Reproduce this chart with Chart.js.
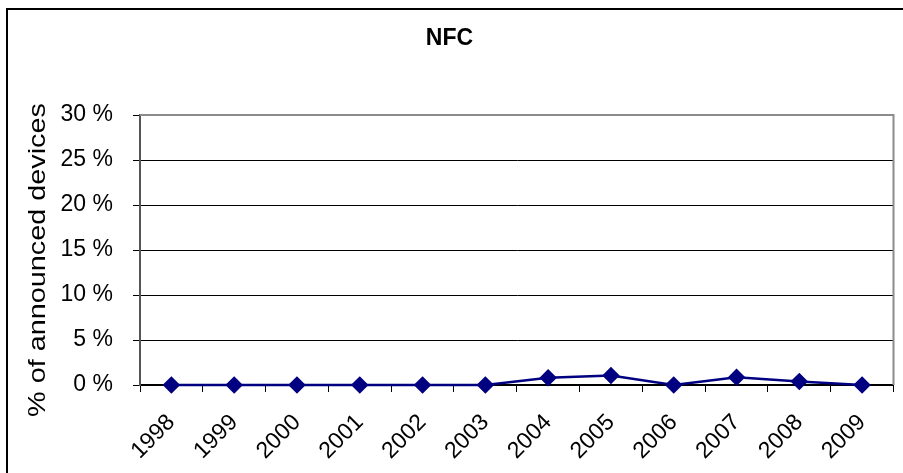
<!DOCTYPE html>
<html>
<head>
<meta charset="utf-8">
<script src="https://cdn.jsdelivr.net/npm/chart.js@4/dist/chart.umd.min.js"></script>
<style>
  html, body { margin: 0; padding: 0; background: #fff; }
  #wrap { position: relative; width: 903px; height: 473px; overflow: hidden; }
  #frame { position: absolute; left: 6px; top: 8px; width: 910px; height: 480px;
           border-left: 2px solid #000; border-top: 2px solid #000; pointer-events: none; }
  canvas { position: absolute; left: 0; top: 0; }
</style>
</head>
<body>
<div id="wrap">
  <canvas id="chart" width="903" height="473"></canvas>
  <div id="frame"></div>
</div>
<script>
// Share of announced devices supporting NFC, by year
const years = ['1998','1999','2000','2001','2002','2003','2004','2005','2006','2007','2008','2009'];
const nfcShare = [0, 0, 0, 0, 0, 0, 0.8, 1.05, 0, 0.85, 0.4, 0];
const yTicks = [0, 5, 10, 15, 20, 25, 30];
const yTitle = '% of announced devices';

const FONT = "'Liberation Sans', Arial, sans-serif";

// Gray outline on the top and right of the plot area
const plotFrame = {
  id: 'plotFrame',
  beforeDatasetsDraw(chart) {
    const { ctx, chartArea: a } = chart;
    ctx.save();
    ctx.strokeStyle = '#8c8c8c';
    ctx.lineWidth = 2;
    ctx.beginPath();
    ctx.moveTo(a.left, a.top);
    ctx.lineTo(a.right, a.top);
    ctx.lineTo(a.right, a.bottom);
    ctx.stroke();
    ctx.restore();
  }
};

// Vertical axis caption, slightly widened lettering
const axisCaption = {
  id: 'axisCaption',
  afterDraw(chart) {
    const { ctx } = chart;
    ctx.save();
    ctx.translate(38, 260);
    ctx.rotate(-Math.PI / 2);
    ctx.scale(1.2, 1);
    ctx.font = '24px ' + FONT;
    ctx.fillStyle = '#000';
    ctx.textAlign = 'center';
    ctx.textBaseline = 'middle';
    ctx.fillText(yTitle, 0, 0);
    ctx.restore();
  }
};

new Chart(document.getElementById('chart'), {
  type: 'line',
  data: {
    labels: years,
    datasets: [{
      label: 'NFC',
      data: nfcShare,
      borderColor: '#000080',
      backgroundColor: '#000080',
      borderWidth: 2.5,
      pointStyle: 'rectRot',
      pointRadius: 7,
      pointHoverRadius: 7,
      tension: 0,
      clip: false
    }]
  },
  options: {
    responsive: false,
    animation: false,
    layout: { padding: { top: 0, right: 4, left: 0, bottom: 0 } },
    plugins: {
      legend: { display: false },
      tooltip: { enabled: false },
      title: {
        display: true,
        text: 'NFC',
        color: '#000',
        font: { family: FONT, size: 23, weight: 'bold', lineHeight: 1.2 },
        padding: { top: 25, bottom: 62.4 }
      }
    },
    scales: {
      x: {
        type: 'category',
        offset: true,
        grid: {
          offset: true,
          drawOnChartArea: false,
          drawTicks: true,
          tickLength: 7,
          color: '#000',
          lineWidth: 1
        },
        border: { color: '#000', width: 2 },
        ticks: {
          color: '#000',
          font: { family: FONT, size: 23 },
          minRotation: 45,
          maxRotation: 45,
          padding: 17,
          labelOffset: 0,
          autoSkip: false
        },
        afterFit(scale) { scale.height = 88; }
      },
      y: {
        min: 0,
        max: 30,
        afterBuildTicks(scale) { scale.ticks = yTicks.map(v => ({ value: v })); },
        grid: {
          color: '#000',
          lineWidth: 1,
          tickLength: 7,
          drawTicks: true
        },
        border: { color: '#555', width: 2 },
        ticks: {
          color: '#000',
          font: { family: FONT, size: 23 },
          padding: 20,
          callback: v => v + ' %'
        },
        afterFit(scale) { scale.width = 140; }
      }
    }
  },
  plugins: [plotFrame, axisCaption]
});
</script>
</body>
</html>
